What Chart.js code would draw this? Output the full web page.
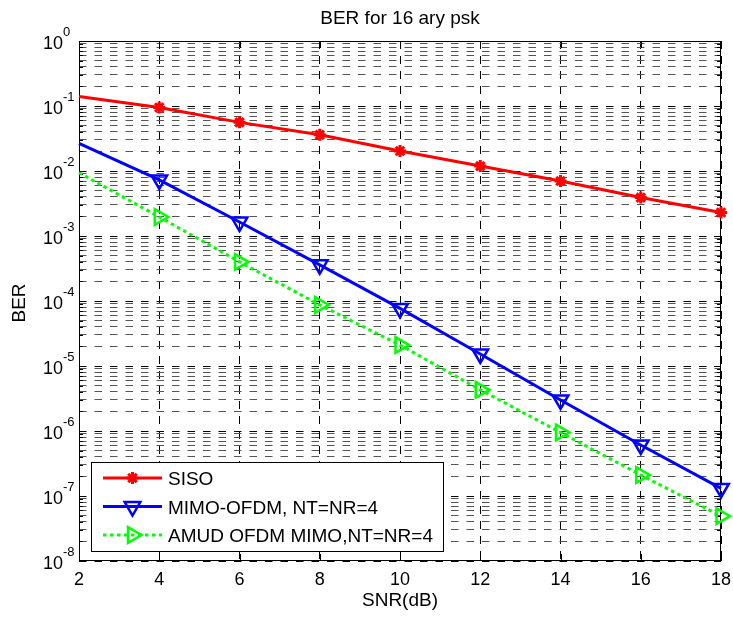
<!DOCTYPE html>
<html>
<head>
<meta charset="utf-8">
<title>BER for 16 ary psk</title>
<script src="https://cdn.jsdelivr.net/npm/chart.js@4.4.1/dist/chart.umd.min.js"></script>
<style>
  html, body { margin: 0; padding: 0; background: #fff; }
  #wrap { width: 733px; height: 619px; }
</style>
</head>
<body>
<div id="wrap"><canvas id="berChart" width="733" height="619"></canvas></div>
<script>
// SNR points (dB) and simulated bit error rates
const snr = [2, 4, 6, 8, 10, 12, 14, 16, 18];
const berSiso = [0.14, 0.095, 0.056, 0.036, 0.0203, 0.0119, 0.0070, 0.0039, 0.0023];
const berMimo = [0.0267, 0.0073, 0.00164, 3.6e-4, 7.7e-5, 1.53e-5, 3.0e-6, 6.1e-7, 1.31e-7];
const berAmud = [0.0094, 0.00196, 4.0e-4, 8.7e-5, 2.1e-5, 4.3e-6, 9.5e-7, 2.1e-7, 4.9e-8];
const seriesNames = ['SISO', 'MIMO-OFDM, NT=NR=4', 'AMUD OFDM MIMO,NT=NR=4'];

// axis ticks
const xTicks = [2, 4, 6, 8, 10, 12, 14, 16, 18];
const yExponents = [-8, -7, -6, -5, -4, -3, -2, -1, 0];
const yMinorSteps = [2, 3, 4, 5, 6, 7, 8, 9];

const FONT = "'Liberation Sans', Arial, Helvetica, sans-serif";

// every 1..9 x 10^k value gets a grid line
const yGridValues = [];
yExponents.forEach(e => {
  yGridValues.push(Math.pow(10, e));
  if (e < 0) yMinorSteps.forEach(m => yGridValues.push(m * Math.pow(10, e)));
});

const isDecade = v => Math.abs(Math.log10(v) - Math.round(Math.log10(v))) < 1e-9;

function points(ys) {
  return snr.map((x, i) => ({ x: x, y: ys[i] }));
}
// no marker on the first sample (x = 2)
const markerRadius = r => ctx => (ctx.dataIndex === 0 ? 0 : r);

function drawMarker(ctx, ds, x, y) {
  const opts = {
    pointStyle: ds.pointStyle,
    radius: ds.legendRadius,
    rotation: ds.pointRotation || 0,
    borderWidth: ds.pointBorderWidth
  };
  ctx.save();
  ctx.setLineDash([]);
  ctx.strokeStyle = ds.pointBorderColor;
  ctx.fillStyle = ds.pointBackgroundColor;
  ctx.lineWidth = ds.pointBorderWidth;
  Chart.helpers.drawPoint(ctx, opts, x, y);
  ctx.restore();
}

// MATLAB-like frame: box, inward ticks, labels and legend
const matlabFrame = {
  id: 'matlabFrame',
  beforeDatasetsDraw(chart) {
    const { ctx, chartArea: a, scales } = chart;
    ctx.save();
    ctx.strokeStyle = '#000';
    ctx.lineWidth = 1;
    ctx.setLineDash([]);
    ctx.strokeRect(Math.round(a.left) + 0.5, Math.round(a.top) + 0.5,
                   Math.round(a.right - a.left) - 1, Math.round(a.bottom - a.top) - 1);
    ctx.beginPath();
    xTicks.forEach(t => {
      const px = Math.round(scales.x.getPixelForValue(t)) + 0.5;
      ctx.moveTo(px, a.bottom); ctx.lineTo(px, a.bottom - 7);
      ctx.moveTo(px, a.top); ctx.lineTo(px, a.top + 7);
    });
    yGridValues.forEach(v => {
      const py = Math.round(scales.y.getPixelForValue(v)) + 0.5;
      const len = isDecade(v) ? 7 : 4;
      ctx.moveTo(a.left, py); ctx.lineTo(a.left + len, py);
      ctx.moveTo(a.right, py); ctx.lineTo(a.right - len, py);
    });
    ctx.stroke();
    ctx.restore();
  },
  afterDraw(chart) {
    const { ctx, chartArea: a, scales } = chart;
    const cx = (a.left + a.right) / 2;
    ctx.save();
    ctx.fillStyle = '#000';

    // title and axis titles
    ctx.font = '19px ' + FONT;
    ctx.textAlign = 'center';
    ctx.textBaseline = 'alphabetic';
    ctx.fillText('BER for 16 ary psk', cx, 24);
    ctx.fillText('SNR(dB)', cx, 606);
    ctx.save();
    ctx.translate(25, 303);
    ctx.rotate(-Math.PI / 2);
    ctx.fillText('BER', 0, 0);
    ctx.restore();

    // x tick labels
    ctx.font = '18px ' + FONT;
    xTicks.forEach(t => {
      ctx.fillText(String(t), scales.x.getPixelForValue(t), 585);
    });

    // y tick labels 10^k
    ctx.textAlign = 'left';
    yExponents.forEach(e => {
      const py = scales.y.getPixelForValue(Math.pow(10, e));
      ctx.font = '18px ' + FONT;
      ctx.fillText('10', 43, py + 7.5);
      const w = ctx.measureText('10').width;
      ctx.font = '13px ' + FONT;
      ctx.fillText(String(e), 43 + w, py - 5.5);
    });

    // legend
    const box = { x: 91, y: 462, w: 352, h: 89 };
    const rows = [478, 506.5, 535];
    ctx.fillStyle = '#fff';
    ctx.fillRect(box.x, box.y, box.w, box.h);
    ctx.strokeStyle = '#000';
    ctx.lineWidth = 1;
    ctx.strokeRect(box.x + 0.5, box.y + 0.5, box.w, box.h);
    chart.data.datasets.forEach((ds, i) => {
      const y = rows[i];
      ctx.save();
      ctx.strokeStyle = ds.borderColor;
      ctx.lineWidth = ds.borderWidth;
      ctx.setLineDash(ds.borderDash || []);
      ctx.beginPath();
      ctx.moveTo(103, y); ctx.lineTo(162, y);
      ctx.stroke();
      ctx.restore();
      drawMarker(ctx, ds, 132.5, y);
      ctx.fillStyle = '#000';
      ctx.font = '19px ' + FONT;
      ctx.textAlign = 'left';
      ctx.fillText(ds.label, 168, y + 7);
    });
    ctx.restore();
  }
};

new Chart(document.getElementById('berChart').getContext('2d'), {
  type: 'line',
  data: {
    datasets: [{
      label: seriesNames[0],
      data: points(berSiso),
      borderColor: '#ff0000',
      borderWidth: 3,
      pointStyle: 'star',
      pointRadius: markerRadius(6),
      legendRadius: 6,
      pointBorderWidth: 3,
      pointBorderColor: '#ff0000',
      pointBackgroundColor: '#ff0000',
      tension: 0,
      clip: false
    }, {
      label: seriesNames[1],
      data: points(berMimo),
      borderColor: '#0000ff',
      borderWidth: 3,
      pointStyle: 'triangle',
      pointRotation: 180,
      pointRadius: markerRadius(9),
      legendRadius: 9,
      pointBorderWidth: 2.5,
      pointBorderColor: '#0000ff',
      pointBackgroundColor: 'rgba(0,0,0,0)',
      tension: 0,
      clip: false
    }, {
      label: seriesNames[2],
      data: points(berAmud),
      borderColor: '#00ff00',
      borderWidth: 3,
      borderDash: [3.5, 3.5],
      pointStyle: 'triangle',
      pointRotation: 90,
      pointRadius: markerRadius(9),
      legendRadius: 9,
      pointBorderWidth: 2.5,
      pointBorderColor: '#00ff00',
      pointBackgroundColor: 'rgba(0,0,0,0)',
      tension: 0,
      clip: false
    }]
  },
  options: {
    responsive: false,
    animation: false,
    layout: { padding: { left: 79, right: 12, top: 41, bottom: 58 } },
    plugins: {
      legend: { display: false },
      title: { display: false },
      tooltip: { enabled: false }
    },
    elements: { point: { hoverRadius: 0 } },
    scales: {
      x: {
        type: 'linear',
        min: 2,
        max: 18,
        afterBuildTicks: scale => { scale.ticks = xTicks.map(v => ({ value: v })); },
        ticks: { display: false },
        grid: { color: '#000', lineWidth: 1, drawTicks: false },
        border: { display: false, dash: [8, 7] }
      },
      y: {
        type: 'logarithmic',
        min: 1e-8,
        max: 1,
        afterBuildTicks: scale => { scale.ticks = yGridValues.map(v => ({ value: v })); },
        ticks: { display: false, autoSkip: false },
        grid: {
          color: ctx => (ctx.tick && isDecade(ctx.tick.value) ? '#000' : '#555'),
          lineWidth: 1,
          drawTicks: false
        },
        border: { display: false, dash: [7.5, 8] }
      }
    }
  },
  plugins: [matlabFrame]
});
</script>
</body>
</html>
